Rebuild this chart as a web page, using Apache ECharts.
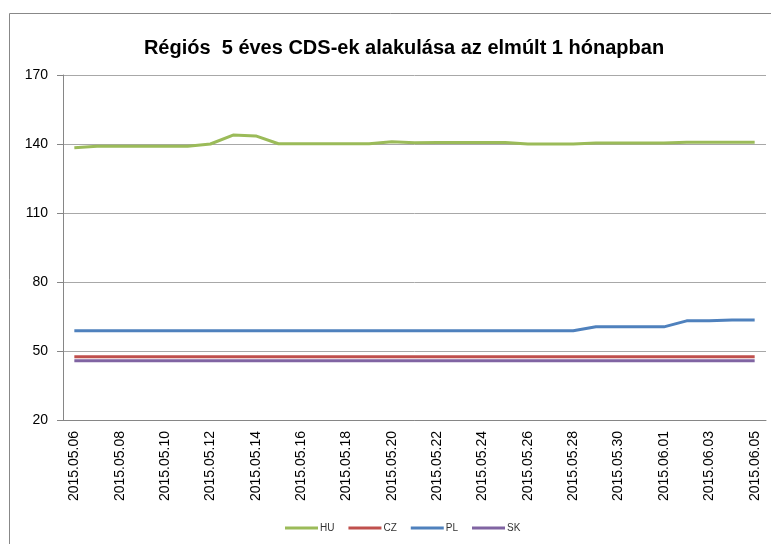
<!DOCTYPE html>
<html>
<head>
<meta charset="utf-8">
<script src="https://cdn.jsdelivr.net/npm/echarts@6/dist/echarts.min.js"></script>
<style>
  html, body { margin: 0; padding: 0; background: #fff; }
  #main { width: 771px; height: 544px; }
</style>
</head>
<body>
<div id="main"></div>
<script>
// napi dátumok
var dates = [
  "2015.05.06", "2015.05.07", "2015.05.08", "2015.05.09", "2015.05.10",
  "2015.05.11", "2015.05.12", "2015.05.13", "2015.05.14", "2015.05.15",
  "2015.05.16", "2015.05.17", "2015.05.18", "2015.05.19", "2015.05.20",
  "2015.05.21", "2015.05.22", "2015.05.23", "2015.05.24", "2015.05.25",
  "2015.05.26", "2015.05.27", "2015.05.28", "2015.05.29", "2015.05.30",
  "2015.05.31", "2015.06.01", "2015.06.02", "2015.06.03", "2015.06.04",
  "2015.06.05"
];
var hu = [
  138.4, 139.0, 139.0, 139.0, 139.0, 139.0, 140.0, 143.9, 143.5, 140.1,
  140.1, 140.1, 140.1, 140.1, 141.0, 140.5, 140.7, 140.7, 140.7, 140.7,
  140.0, 140.0, 140.0, 140.4, 140.4, 140.4, 140.4, 140.8, 140.8, 140.8,
  140.8
];
var cz = [
  47.5, 47.5, 47.5, 47.5, 47.5, 47.5, 47.5, 47.5, 47.5, 47.5,
  47.5, 47.5, 47.5, 47.5, 47.5, 47.5, 47.5, 47.5, 47.5, 47.5,
  47.5, 47.5, 47.5, 47.5, 47.5, 47.5, 47.5, 47.5, 47.5, 47.5,
  47.5
];
var pl = [
  58.8, 58.8, 58.8, 58.8, 58.8, 58.8, 58.8, 58.8, 58.8, 58.8,
  58.8, 58.8, 58.8, 58.8, 58.8, 58.8, 58.8, 58.8, 58.8, 58.8,
  58.8, 58.8, 58.8, 60.5, 60.5, 60.5, 60.5, 63.1, 63.1, 63.5,
  63.5
];
var sk = [
  45.8, 45.8, 45.8, 45.8, 45.8, 45.8, 45.8, 45.8, 45.8, 45.8,
  45.8, 45.8, 45.8, 45.8, 45.8, 45.8, 45.8, 45.8, 45.8, 45.8,
  45.8, 45.8, 45.8, 45.8, 45.8, 45.8, 45.8, 45.8, 45.8, 45.8,
  45.8
];

var font = "'Liberation Sans', Arial, sans-serif";

function line(name, data, color) {
  return {
    name: name,
    type: "line",
    data: data,
    symbol: "none",
    smooth: false,
    lineStyle: { width: 3, color: color },
    itemStyle: { color: color }
  };
}

var myChart = echarts.init(document.getElementById("main"));
var option = {
  animation: false,
  backgroundColor: "#fff",
  textStyle: { fontFamily: font },
  graphic: [
    {
      type: "rect",
      shape: { x: 9.5, y: 13.5, width: 800, height: 600 },
      style: { fill: "none", stroke: "#888", lineWidth: 1 },
      silent: true
    }
  ],
  title: {
    text: "Régiós  5 éves CDS-ek alakulása az elmúlt 1 hónapban",
    left: 399,
    top: 33,
    textAlign: "center",
    textStyle: {
      fontFamily: font,
      fontSize: 20,
      fontWeight: "bold",
      color: "#000"
    }
  },
  legend: {
    bottom: 6,
    left: 280,
    itemWidth: 33,
    itemHeight: 3,
    itemGap: 14,
    icon: "rect",
    textStyle: { fontFamily: font, fontSize: 10, color: "#333", padding: [0, 0, 0, -3] },
    data: ["HU", "CZ", "PL", "SK"]
  },
  grid: {
    left: 63,
    right: 5,
    top: 75,
    bottom: 124,
    containLabel: false
  },
  xAxis: {
    type: "category",
    data: dates,
    boundaryGap: true,
    axisLine: { lineStyle: { color: "#868686", width: 1 } },
    axisTick: { interval: 1, length: 5, lineStyle: { color: "#868686" } },
    axisLabel: {
      interval: 1,
      rotate: 90,
      margin: 11,
      fontFamily: font,
      fontSize: 14,
      color: "#000"
    },
    splitLine: { show: false }
  },
  yAxis: {
    type: "value",
    min: 20,
    max: 170,
    interval: 30,
    axisLine: { show: true, lineStyle: { color: "#868686", width: 1 } },
    axisTick: { show: true, length: 6, lineStyle: { color: "#868686" } },
    axisLabel: { margin: 15, fontFamily: font, fontSize: 14, color: "#000" },
    splitLine: { lineStyle: { color: "#a8a8a8", width: 1 } }
  },
  series: [
    line("HU", hu, "#9bbb59"),
    line("CZ", cz, "#c0504d"),
    line("PL", pl, "#4f81bd"),
    line("SK", sk, "#8064a2")
  ]
};
myChart.setOption(option, true);
</script>
</body>
</html>
